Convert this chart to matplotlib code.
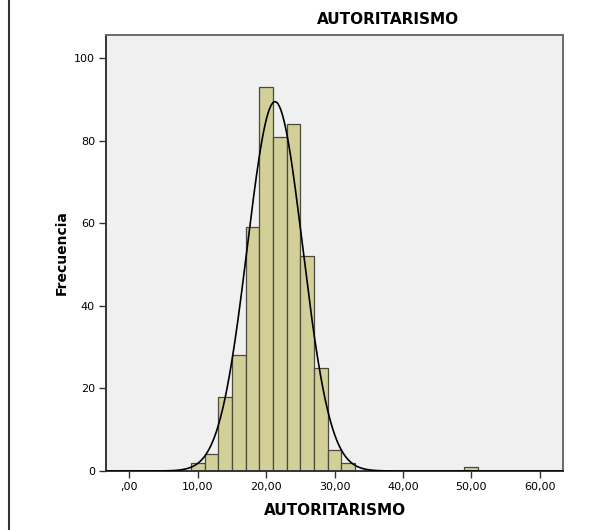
import numpy as np
import matplotlib
matplotlib.use("Agg")
import matplotlib.pyplot as plt
from matplotlib.lines import Line2D

# Data
bin_centers = [10, 12, 14, 16, 18, 20, 22, 24, 26, 28, 30, 32, 50]
counts = [2, 4, 18, 28, 59, 93, 81, 84, 52, 25, 5, 2, 1]
bin_width = 2
curve_mean = 21.3
curve_sd = 4.05
n_total = sum(counts)
x_ticks = [0, 10, 20, 30, 40, 50, 60]
x_tick_labels = [",00", "10,00", "20,00", "30,00", "40,00", "50,00", "60,00"]
y_ticks = [0, 20, 40, 60, 80, 100]
y_tick_labels = ["0", "20", "40", "60", "80", "100"]

fig = plt.figure(figsize=(6.07, 5.30), dpi=100)
ax = fig.add_axes([106/607, 1-471/530, (563-106)/607, (471-35)/530])
ax.set_facecolor("#F0F0F0")

ax.bar(bin_centers, counts, width=bin_width, color="#D3CF99",
       edgecolor="#4a4a3c", linewidth=0.9, zorder=2)

xlim = (-3.4, 63.4)
xs = np.linspace(xlim[0], xlim[1], 800)
ys = n_total * bin_width / (curve_sd * np.sqrt(2*np.pi)) * np.exp(-0.5*((xs-curve_mean)/curve_sd)**2)
ax.plot(xs, ys, color="black", lw=1.2, zorder=3)

ax.set_xlim(*xlim)
ax.set_ylim(0, 105.6)
ax.set_xticks(x_ticks)
ax.set_xticklabels(x_tick_labels, fontsize=8)
ax.set_yticks(y_ticks)
ax.set_yticklabels(y_tick_labels, fontsize=8)
ax.tick_params(direction="out", length=5, width=1.0, color="#333333", pad=3)

for side, sp in ax.spines.items():
    sp.set_color("#6a6a6a")
    sp.set_linewidth(1.4)
ax.spines["left"].set_color("#333333")
ax.spines["bottom"].set_color("#333333")

ax.set_xlabel("AUTORITARISMO", fontsize=11, fontweight="bold", labelpad=8)
ax.set_ylabel("Frecuencia", fontsize=10, fontweight="bold", labelpad=4)

fig.text(388/607, 1-20/530, "AUTORITARISMO", fontsize=11, fontweight="bold",
         ha="center", va="center")

fig.add_artist(Line2D([9/607, 9/607], [0, 1], transform=fig.transFigure,
                      color="#333333", lw=1.5))

fig.savefig("out.png", dpi=100)
